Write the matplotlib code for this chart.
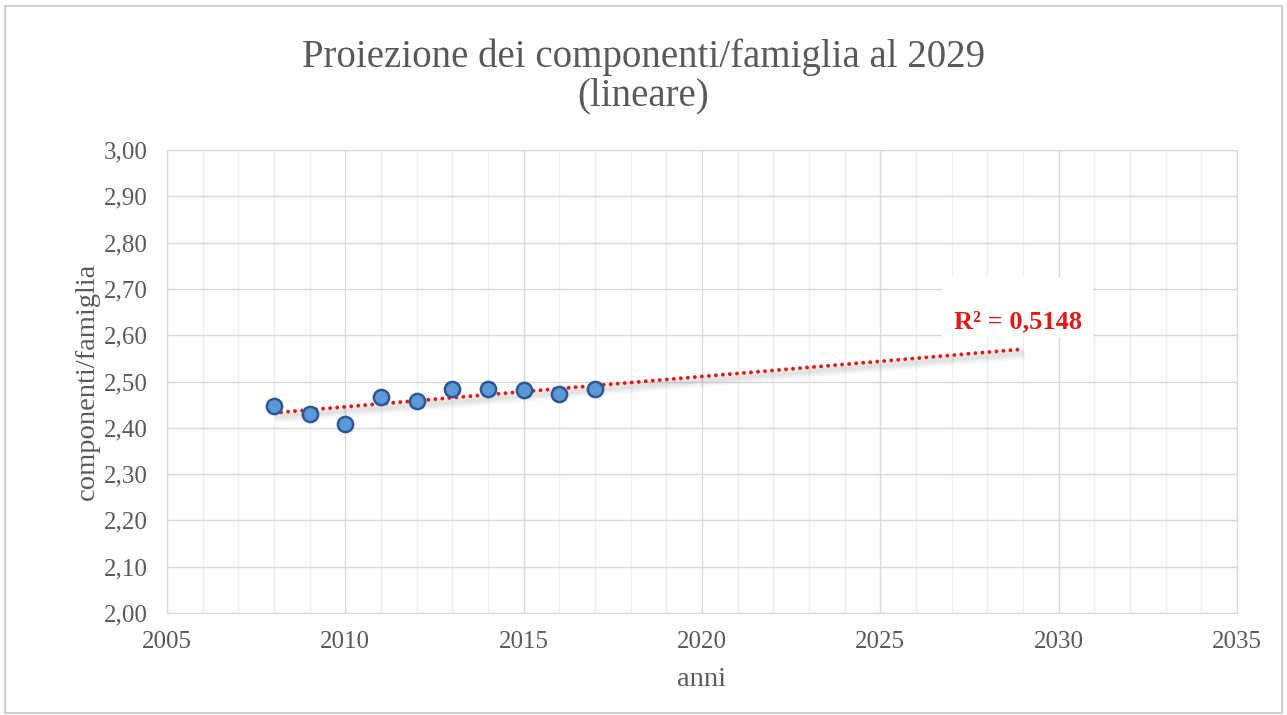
import numpy as np
import matplotlib
matplotlib.use("Agg")
import matplotlib.pyplot as plt
from matplotlib.ticker import MultipleLocator, FuncFormatter
from matplotlib.patches import Rectangle
import matplotlib.transforms as mtransforms

# data
anni = np.array([2008, 2009, 2010, 2011, 2012, 2013, 2014, 2015, 2016, 2017])
comp_fam = np.array([2.447, 2.430, 2.408, 2.467, 2.458, 2.484, 2.484, 2.482, 2.473, 2.484])
anno_fine = 2029
r2_label = "R² = 0,5148"

plt.rcParams['font.family'] = ['Liberation Serif', 'DejaVu Serif']
grey_txt = '#595959'
red = '#E01818'

fig = plt.figure(figsize=(12.87, 7.15), dpi=100)
ax = fig.add_axes([167/1287, 1 - 613/715, (1237-167)/1287, (613-150)/715])

# outer frame of the chart
fig.patches.append(Rectangle((5/1287, 2/715), 1277/1287, 707/715, transform=fig.transFigure,
                             fill=False, edgecolor='#D0D0D0', linewidth=1.5))

# linear trendline
coef = np.polyfit(anni, comp_fam, 1)
xt = np.array([anni[0], anno_fine])
yt = np.polyval(coef, xt)
shadow = mtransforms.offset_copy(ax.transData, fig=fig, x=1, y=-4, units='dots')
for lw, a in [(9, 0.05), (6, 0.07), (3, 0.08)]:
    ax.plot(xt, yt, color='#707070', lw=lw, alpha=a, transform=shadow,
            solid_capstyle='butt', zorder=2)
ax.plot(xt, yt, color=red, lw=2.8, linestyle=(0, (0.01, 1.8)),
        dash_capstyle='round', zorder=3)

ax.scatter(anni, comp_fam, s=120, color='#5B9BD5', edgecolor='#2F5597',
           linewidth=1.8, zorder=4)

# label of R squared on a white patch
ax.add_patch(Rectangle((2026.73, 2.596), 4.23, 0.13, facecolor='white',
                       edgecolor='none', zorder=2.5))
ax.text(2028.85, 2.628, r2_label, color=red, fontsize=19, fontweight='bold',
        ha='center', va='center', zorder=5)

ax.set_xlim(2005, 2035)
ax.set_ylim(2.0, 3.0)
ax.xaxis.set_major_locator(MultipleLocator(5))
ax.xaxis.set_minor_locator(MultipleLocator(1))
ax.yaxis.set_major_locator(MultipleLocator(0.1))
ax.yaxis.set_major_formatter(FuncFormatter(lambda v, p: f"{v:.2f}".replace('.', ',')))
ax.grid(which='major', color='#D9D9D9', linewidth=1.0)
ax.grid(which='minor', axis='x', color='#EFEFEF', linewidth=1.0)
ax.set_axisbelow(True)
ax.tick_params(which='both', length=0, labelsize=18, labelcolor=grey_txt)
ax.tick_params(axis='x', pad=13)
ax.tick_params(axis='y', pad=14)
for s in ax.spines.values():
    s.set_color('#D9D9D9')

ax.set_xlabel('anni', fontsize=20.5, color=grey_txt, labelpad=10)
ax.set_ylabel('componenti/famiglia', fontsize=20.5, color=grey_txt, labelpad=3)

fig.text(0.5, 1 - 57/715, 'Proiezione dei componenti/famiglia al 2029', ha='center',
         va='center', fontsize=28, color=grey_txt)
fig.text(0.5, 1 - 96/715, '(lineare)', ha='center', va='center', fontsize=28, color=grey_txt)

fig.savefig('out.png', dpi=100)
